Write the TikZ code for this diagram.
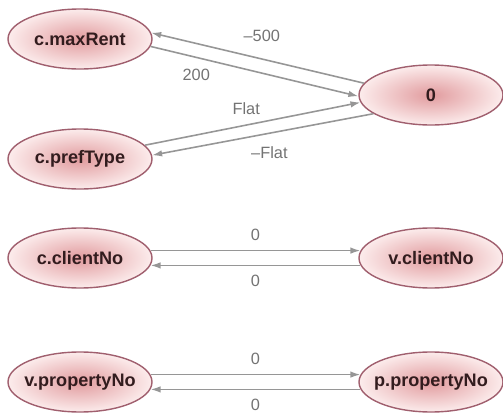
\documentclass[tikz,border=0pt]{standalone}
\usepackage{fontspec}
\setmainfont{Liberation Sans}
\usetikzlibrary{shapes.geometric,arrows.meta}

\definecolor{bordeelipse}{RGB}{160,95,110}
\definecolor{rosaclaro}{RGB}{252,236,236}
\definecolor{rosaoscuro}{RGB}{225,155,158}
\definecolor{gris}{RGB}{150,150,150}
\definecolor{grisletra}{RGB}{115,115,115}
\definecolor{textonodo}{RGB}{50,28,30}

% texto del atributo sin ancho, la elipse fija su tamano
\newcommand{\campo}[1]{\makebox[0pt]{#1}}

\tikzset{
  atributo/.style={ellipse, draw=bordeelipse, line width=0.8pt,
    inner color=rosaoscuro, outer color=rosaclaro,
    minimum width=2.88cm, minimum height=1.2cm, inner sep=0pt,
    font=\fontsize{10.3}{12}\selectfont\bfseries, text=textonodo},
  flecha/.style={draw=gris, line width=0.9pt, -{Latex[length=2mm,width=1.3mm]}},
  etiqueta/.style={font=\fontsize{9.3}{11}\selectfont, text=grisletra}
}

\begin{document}
\begin{tikzpicture}

    \useasboundingbox (0,0) rectangle (10.06,8.3);

    % atributos
    \node[atributo] (mr) at (1.6,7.52) {\campo{c.maxRent}};
    \node[atributo] (pt) at (1.6,5.12) {\campo{c.prefType}};
    \node[atributo] (zero) at (8.62,6.4) {\campo{0}};
    \node[atributo] (cc) at (1.6,3.14) {\campo{c.clientNo}};
    \node[atributo] (vc) at (8.62,3.14) {\campo{v.clientNo}};
    \node[atributo] (vp) at (1.6,0.66) {\campo{v.propertyNo}};
    \node[atributo] (pp) at (8.62,0.66) {\campo{p.propertyNo}};

    % maxRent y prefType contra la constante
    \draw[flecha] (zero.170) -- node[etiqueta, pos=0.48, above=6pt] {--500} (mr.5);
    \draw[flecha] (mr.-6) -- node[etiqueta, pos=0.22, below=3pt] {200} (zero.181);
    \draw[flecha] (pt.12) -- node[etiqueta, pos=0.47, above=2pt] {Flat} (zero.186);
    \draw[flecha] (zero.198) -- node[etiqueta, pos=0.47, below=4pt] {--Flat} (pt.3);

    % clientNo
    \draw[flecha] (cc.6) -- node[etiqueta, above=2pt] {0} (vc.174);
    \draw[flecha] (vc.186) -- node[etiqueta, below=2pt] {0} (cc.-6);

    % propertyNo
    \draw[flecha] (vp.6) -- node[etiqueta, above=2pt] {0} (pp.174);
    \draw[flecha] (pp.186) -- node[etiqueta, below=2pt] {0} (vp.-6);

\end{tikzpicture}
\end{document}
